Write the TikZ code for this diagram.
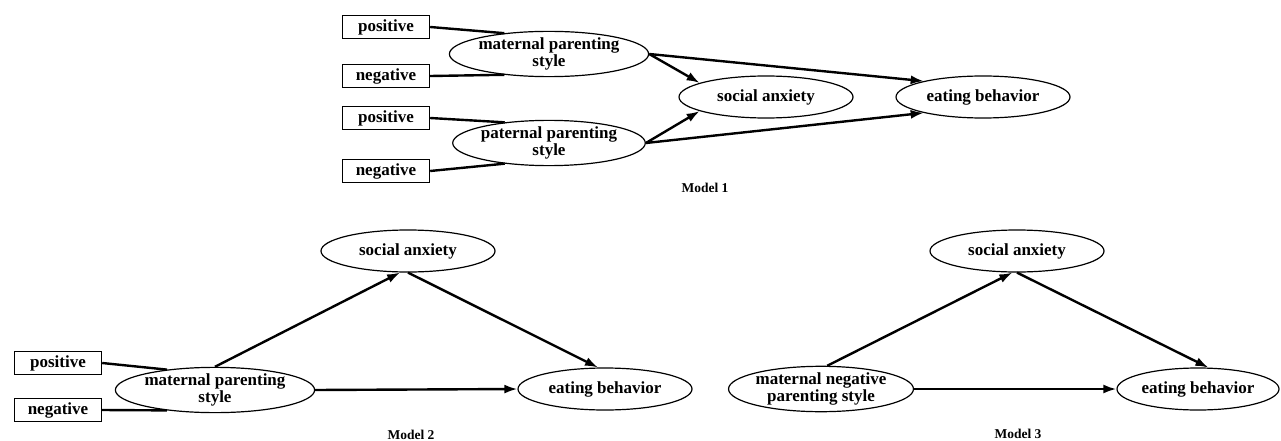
\documentclass[tikz,border=0pt]{standalone}
\usepackage{fontspec}
\setmainfont{Liberation Serif}
\usepackage{tikz}
\usetikzlibrary{arrows.meta, positioning, shapes.geometric}

\begin{document}
\begin{tikzpicture}[
    x=1pt, y=-1pt,
    latent/.style={ellipse, draw, line width=1.2pt, minimum width=174pt,
        minimum height=42pt, inner sep=0pt, align=center,
        font=\fontsize{17}{11.5}\selectfont\bfseries},
    indic/.style={rectangle, draw, line width=1.4pt, minimum width=87pt,
        minimum height=23pt, inner sep=0pt,
        font=\fontsize{17}{17}\selectfont\bfseries},
    caption/.style={font=\fontsize{13.5}{13.5}\selectfont\bfseries},
    link/.style={line width=2.4pt},
    path/.style={line width=2.4pt, -{Latex[length=13pt,width=9pt]}},
]
\useasboundingbox (0,0) rectangle (1281,441);

% Model 1
\node[indic] (pos1) at (386,27) {positive};
\node[indic] (neg1) at (386,76) {negative};
\node[indic] (pos2) at (386,118) {positive};
\node[indic] (neg2) at (386,171) {negative};
\node[latent] (mat1) at (549,54) {maternal parenting\\style};
\node[latent] (pat1) at (549,143) {paternal parenting\\style};
\node[latent] (soc1) at (766,97) {social anxiety};
\node[latent] (eat1) at (983,97) {eating behavior};
\node[caption] (m1) at (705,188) {Model 1};

\draw[link] (pos1.east) -- (mat1.155);
\draw[link] (neg1.east) -- (mat1.205);
\draw[link] (pos2.east) -- (pat1.155);
\draw[link] (neg2.east) -- (pat1.205);
\draw[path] (mat1.east) -- (soc1.168);
\draw[path] (mat1.east) -- (eat1.165);
\draw[path] (pat1.east) -- (soc1.192);
\draw[path] (pat1.east) -- (eat1.195);

% Model 2
\node[indic] (pos3) at (58,363) {positive};
\node[indic] (neg3) at (58,410) {negative};
\node[latent] (mat2) at (215,390) {maternal parenting\\style};
\node[latent] (soc2) at (408,251) {social anxiety};
\node[latent] (eat2) at (605,389) {eating behavior};
\node[caption] (m2) at (411,435) {Model 2};

\draw[link] (pos3.east) -- (mat2.157);
\draw[link] (neg3.east) -- (mat2.203);
\draw[path] (mat2.north) -- (soc2.250);
\draw[path] (soc2.south) -- (eat2.108);
\draw[path] (mat2.east) -- (eat2.west);

% Model 3
\node[latent] (mat3) at (821,389) {maternal negative\\parenting style};
\node[latent] (soc3) at (1017,251) {social anxiety};
\node[latent, minimum width=162pt] (eat3) at (1198,389) {eating behavior};
\node[caption] (m3) at (1018,434) {Model 3};

\draw[path] (mat3.75) -- (soc3.258);
\draw[path] (soc3.south) -- (eat3.64);
\draw[path] (mat3.east) -- (eat3.west);
\end{tikzpicture}
\end{document}
